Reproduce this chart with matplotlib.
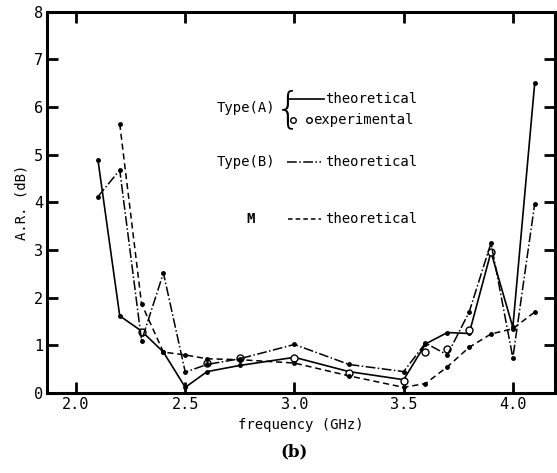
import matplotlib
matplotlib.use('Agg')
from matplotlib import pyplot as plt

# frequencies (GHz)
freq_a = [2.1, 2.2, 2.3, 2.4, 2.5, 2.6, 2.75, 3.0, 3.25, 3.5, 3.6, 3.7, 3.8, 3.9, 4.0, 4.1]
ar_a = [4.9, 1.62, 1.3, 0.86, 0.12, 0.45, 0.58, 0.75, 0.45, 0.28, 1.03, 1.27, 1.25, 2.96, 1.38, 6.5]

freq_exp = [2.3, 2.6, 2.75, 3.0, 3.25, 3.5, 3.6, 3.7, 3.8, 3.9]
ar_exp = [1.28, 0.63, 0.73, 0.73, 0.42, 0.25, 0.86, 0.92, 1.32, 2.95]

freq_b = [2.1, 2.2, 2.3, 2.4, 2.5, 2.6, 2.75, 3.0, 3.25, 3.5, 3.6, 3.7, 3.8, 3.9, 4.0, 4.1]
ar_b = [4.12, 4.68, 1.1, 2.52, 0.44, 0.6, 0.72, 1.02, 0.6, 0.45, 1.05, 0.8, 1.7, 3.15, 0.74, 3.97]

freq_m = [2.2, 2.3, 2.4, 2.5, 2.6, 2.75, 3.0, 3.25, 3.5, 3.6, 3.7, 3.8, 3.9, 4.0, 4.1]
ar_m = [5.65, 1.87, 0.86, 0.8, 0.72, 0.7, 0.63, 0.36, 0.12, 0.2, 0.55, 0.96, 1.24, 1.35, 1.7]

x_ticks = [2.0, 2.5, 3.0, 3.5, 4.0]
y_ticks = [0, 1, 2, 3, 4, 5, 6, 7, 8]

mono = 'DejaVu Sans Mono'

fig = plt.figure(figsize=(5.57, 4.73), dpi=100)
ax = fig.add_axes([0.0844, 0.169, 0.912, 0.806])

ax.plot(freq_a, ar_a, '-', color='black', lw=1.2, marker='o', ms=2.5)
ax.plot(freq_exp, ar_exp, 'o', mfc='white', mec='black', mew=1.0, ms=5)
ax.plot(freq_b, ar_b, '-.', color='black', lw=1.1, marker='o', ms=2.5)
ax.plot(freq_m, ar_m, '--', color='black', lw=1.1, marker='o', ms=2.5, dashes=(4, 2.5))

ax.set_xlim(1.867, 4.193)
ax.set_ylim(0, 8)
ax.set_xticks(x_ticks)
ax.set_xticklabels(['%.1f' % v for v in x_ticks], family=mono, fontsize=11)
ax.set_yticks(y_ticks)
ax.set_yticklabels([str(v) for v in y_ticks], family=mono, fontsize=11)
ax.tick_params(direction='in', length=8, width=2, top=True, right=True, pad=3)

for s in ax.spines.values():
    s.set_linewidth(2.2)

ax.set_xlabel('frequency (GHz)', family=mono, fontsize=10, labelpad=4)
ax.set_ylabel('A.R. (dB)', family=mono, fontsize=10, labelpad=4)
fig.text(0.528, 0.045, '(b)', family='DejaVu Serif', fontweight='bold',
         fontsize=12, ha='center', va='center')

# legend drawn by hand
tr = ax.transAxes
ax.text(0.450, 0.748, 'Type(A)', transform=tr, family=mono, fontsize=10,
        ha='right', va='center')
ax.text(0.448, 0.742, '{', transform=tr, family='DejaVu Sans', fontsize=30,
        ha='left', va='center', fontweight='ultralight')
ax.plot([0.474, 0.545], [0.772, 0.772], '-', color='black', lw=1.2, transform=tr)
ax.text(0.547, 0.772, 'theoretical', transform=tr, family=mono, fontsize=10,
        ha='left', va='center')
ax.plot([0.484, 0.516], [0.717, 0.717], 'o', mfc='white', mec='black', mew=1.0,
        ms=4, transform=tr)
ax.text(0.524, 0.717, 'experimental', transform=tr, family=mono, fontsize=10,
        ha='left', va='center')

ax.text(0.450, 0.606, 'Type(B)', transform=tr, family=mono, fontsize=10,
        ha='right', va='center')
ax.plot([0.472, 0.54], [0.606, 0.606], '-.', color='black', lw=1.1, transform=tr)
ax.text(0.547, 0.606, 'theoretical', transform=tr, family=mono, fontsize=10,
        ha='left', va='center')

ax.text(0.40, 0.457, 'M', transform=tr, family=mono, fontsize=10,
        ha='center', va='center', fontweight='bold')
ax.plot([0.474, 0.54], [0.457, 0.457], '--', color='black', lw=1.1,
        dashes=(3, 2), transform=tr)
ax.text(0.547, 0.457, 'theoretical', transform=tr, family=mono, fontsize=10,
        ha='left', va='center')

fig.savefig('out.png', dpi=100)
